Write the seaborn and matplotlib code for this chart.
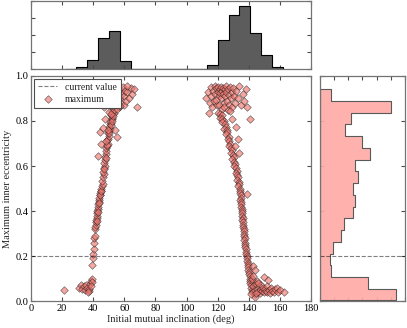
import numpy as np
import pandas as pd
import matplotlib
matplotlib.use("Agg")
import matplotlib.pyplot as plt
import seaborn as sns

# scatter: initial mutual inclination (deg) vs maximum inner eccentricity
incl_low = [21.5, 31, 32, 33, 34, 35, 35.5, 36, 37, 37.5, 38, 38.5, 39, 39.5, 38.8, 36.5,
            39.5, 39.8, 40, 40.2, 40.5, 40.8, 41]
ecc_low = [0.05, 0.06, 0.07, 0.055, 0.065, 0.05, 0.07, 0.06, 0.045, 0.055, 0.075, 0.09, 0.1, 0.085, 0.065, 0.04,
           0.16, 0.19, 0.21, 0.23, 0.26, 0.28, 0.29]

incl_left = [41.2, 41.4, 41.6, 41.8, 41.9, 42.1, 42.3, 42.5, 42.6, 42.8, 43.0, 43.2, 43.4, 43.6, 43.9, 44.1,
             44.4, 44.7, 45.0, 42.2, 42.9, 43.7, 44.6, 45.3,
             45.5, 46.0, 45.8, 46.3, 46.6, 46.2, 47.0, 47.3, 47.0, 47.8, 47.5, 48.1, 48.5, 48.0, 48.8, 49.2,
             48.7, 49.5, 49.9, 49.3, 50.3, 50.6, 50.0, 51.0, 51.4, 50.6, 51.8, 52.2, 51.4, 52.7, 53.1, 52.3, 53.6,
             43.3, 45.0, 47.6, 50.3, 44.5, 46.5, 54.0, 55.0,
             46.8, 47.9, 49.0, 50.2, 51.2, 52.0, 53.0, 48.4, 49.8, 51.6]
ecc_left = [0.32, 0.33, 0.34, 0.35, 0.36, 0.37, 0.38, 0.39, 0.40, 0.41, 0.42, 0.43, 0.44, 0.45, 0.46, 0.47,
            0.48, 0.49, 0.50, 0.355, 0.395, 0.435, 0.47, 0.49,
            0.51, 0.52, 0.535, 0.55, 0.565, 0.575, 0.59, 0.6, 0.615, 0.625, 0.64, 0.655, 0.665, 0.68, 0.69, 0.70,
            0.715, 0.72, 0.735, 0.745, 0.755, 0.765, 0.775, 0.785, 0.79, 0.80, 0.81, 0.815, 0.825, 0.83, 0.835, 0.845, 0.85,
            0.645, 0.70, 0.81, 0.84, 0.75, 0.77, 0.76, 0.73,
            0.585, 0.635, 0.695, 0.745, 0.78, 0.80, 0.82, 0.71, 0.76, 0.83]

incl_left_top = [47, 48.5, 49, 50, 50.5, 51, 51.5, 52, 52.5, 53, 53.5, 54, 54.5, 55, 55.5, 56, 56.5, 57,
                 57.5, 58, 58.5, 59, 59.5, 60, 60.5, 61, 62, 63, 64, 65, 66, 68, 55, 53, 57, 61.5, 46.5, 48]
ecc_left_top = [0.86, 0.88, 0.91, 0.93, 0.87, 0.90, 0.94, 0.92, 0.88, 0.95, 0.91, 0.87, 0.93, 0.89, 0.95, 0.92,
                0.86, 0.90, 0.94, 0.88, 0.92, 0.95, 0.87, 0.91, 0.935, 0.89, 0.93, 0.90, 0.945, 0.92, 0.94, 0.86,
                0.855, 0.865, 0.865, 0.955, 0.89, 0.945]

incl_right_top = [112.5, 113.5, 114.4, 115, 115.5, 116, 116.5, 117, 117.5, 118, 118.5, 119, 119.5, 120, 120.3,
                  120.8, 121.2, 121.6, 122, 122.4, 122.8, 123.2, 123.6, 124, 124.4, 124.8, 125.2, 125.6, 126,
                  126.5, 127, 127.5, 128, 128.5, 129, 129.5, 130, 130.5, 131, 132, 133, 134, 135, 136, 137, 138,
                  139, 121, 123, 119, 126.5, 124, 128, 140.5]
ecc_right_top = [0.90, 0.93, 0.834, 0.88, 0.95, 0.91, 0.86, 0.935, 0.89, 0.955, 0.92, 0.945, 0.87, 0.93, 0.95,
                 0.91, 0.94, 0.925, 0.95, 0.90, 0.935, 0.945, 0.92, 0.88, 0.94, 0.91, 0.955, 0.93, 0.89,
                 0.94, 0.915, 0.87, 0.95, 0.90, 0.93, 0.86, 0.945, 0.91, 0.88, 0.935, 0.90, 0.955, 0.87, 0.92, 0.89, 0.94,
                 0.86, 0.87, 0.855, 0.895, 0.85, 0.86, 0.845, 0.81]

incl_right = [120.5, 121.5, 122.5, 121.8, 123, 124, 122.8, 124.5, 125.2, 124, 125.8, 126.3, 125.3, 127, 126.5,
              127.5, 128.2, 127.4, 128.8, 129.3, 128.5, 129.8, 130.3, 129.5, 130.8, 131.3, 130.6, 131.8, 132.2,
              131.5, 132.6, 133.0, 132.4, 133.4, 133.8, 133.2, 134.2, 129, 131.5, 133, 131, 133.5,
              134.5, 134.3, 134.7, 134.9, 134.6, 135.1, 135.3, 135.0, 135.5, 135.7, 135.4, 135.9, 136.1, 135.8,
              136.3, 136.5, 136.2, 136.7, 136.9, 136.6, 137.1, 137.3, 137.0, 137.5, 137.8, 137.5, 138.0, 138.3,
              138.1, 138.6, 138.9, 138.7, 139.2, 139.5, 139.4, 139.8, 140.2, 140.0, 140.5, 138.6, 142.9, 144]
ecc_right = [0.835, 0.83, 0.825, 0.815, 0.81, 0.80, 0.795, 0.785, 0.775, 0.765, 0.76, 0.75, 0.74, 0.73, 0.72,
             0.71, 0.70, 0.69, 0.68, 0.67, 0.66, 0.65, 0.64, 0.63, 0.62, 0.61, 0.60, 0.59, 0.58,
             0.57, 0.56, 0.55, 0.54, 0.53, 0.52, 0.51, 0.50, 0.81, 0.775, 0.72, 0.69, 0.66,
             0.49, 0.48, 0.47, 0.46, 0.45, 0.44, 0.43, 0.42, 0.41, 0.40, 0.39, 0.38, 0.37, 0.36,
             0.35, 0.34, 0.33, 0.32, 0.31, 0.30, 0.29, 0.28, 0.27, 0.26, 0.25, 0.24, 0.23, 0.22,
             0.21, 0.20, 0.19, 0.18, 0.17, 0.16, 0.15, 0.14, 0.13, 0.12, 0.11, 0.474, 0.155, 0.14]

incl_bottom = [140.5, 141, 140.8, 141.2, 141.5, 141.8, 142, 142.5, 143, 143.5, 144, 144.3, 144.5, 145, 145.5,
               146, 146.5, 147, 147.5, 148, 148.5, 149, 149.5, 150, 150.5, 151, 151.5, 152, 152.6, 153, 153.5,
               154, 155, 156, 157, 158, 158.5, 160, 162.5, 142, 143, 141.5, 146, 144.8]
ecc_bottom = [0.10, 0.09, 0.08, 0.07, 0.06, 0.05, 0.04, 0.085, 0.065, 0.045, 0.03, 0.02, 0.075, 0.055, 0.09,
              0.04, 0.065, 0.05, 0.035, 0.07, 0.045, 0.06, 0.04, 0.108, 0.055, 0.045, 0.065, 0.04, 0.093, 0.05, 0.035,
              0.06, 0.045, 0.04, 0.055, 0.06, 0.04, 0.05, 0.04, 0.1, 0.11, 0.03, 0.08, 0.035]

# marginal histograms (counts per bin)
incl_edges = [22, 29, 36, 43, 50, 57, 64, 71, 78, 85, 92, 99, 106, 113, 120, 127, 134, 141, 148, 155, 162]
incl_counts = [1, 3, 13, 46, 56, 12, 0, 0, 0, 0, 0, 0, 0, 6, 43, 79, 92, 53, 21, 3]
ecc_edges = [0.003, 0.055, 0.107, 0.159, 0.211, 0.264, 0.316, 0.368, 0.420, 0.472, 0.524, 0.576,
             0.628, 0.680, 0.733, 0.785, 0.837, 0.889, 0.941]
ecc_counts = [54, 34, 8, 7, 9, 15, 17, 23, 25, 23, 27, 25, 35, 30, 18, 22, 50, 8]
current_value = 0.2

sns.set_style("ticks", {"xtick.direction": "in", "ytick.direction": "in",
                        "axes.edgecolor": "0.45"})
plt.rcParams["font.family"] = ["Liberation Serif", "DejaVu Serif"]
plt.rcParams.update({"xtick.top": True, "ytick.right": True,
                     "xtick.major.size": 3, "ytick.major.size": 3,
                     "xtick.color": "0.3", "ytick.color": "0.3",
                     "xtick.labelcolor": "black", "ytick.labelcolor": "black",
                     "font.size": 7.5})

df = pd.DataFrame({
    "incl": incl_low + incl_left + incl_left_top + incl_right_top + incl_right + incl_bottom,
    "ecc": ecc_low + ecc_left + ecc_left_top + ecc_right_top + ecc_right + ecc_bottom,
})

fig = plt.figure(figsize=(4.07, 3.28), dpi=100)
ax = fig.add_axes([0.0762, 0.0823, 0.688, 0.686])
ax_top = fig.add_axes([0.0762, 0.789, 0.688, 0.208])
ax_right = fig.add_axes([0.786, 0.0823, 0.209, 0.686])

# main scatter
ax.axhline(current_value, color="k", alpha=0.5, ls="--", lw=0.8, label="current value")
sns.scatterplot(data=df, x="incl", y="ecc", ax=ax, marker="D", s=15,
                color="#f07870", edgecolor="0.1", linewidth=0.45, alpha=0.65,
                label="maximum")
ax.set_xlim(0, 180)
ax.set_ylim(0, 1)
ax.set_xticks(np.arange(0, 181, 20))
ax.set_yticks(np.arange(0, 1.01, 0.2))
ax.set_xlabel("Initial mutual inclination (deg)", fontsize=7.5, labelpad=1)
ax.set_ylabel("Maximum inner eccentricity", fontsize=7.5, labelpad=2)
ax.tick_params(labelsize=7.5, pad=2)
leg = ax.legend(loc="upper left", fontsize=7, fancybox=False, framealpha=1,
                edgecolor="0.3", handlelength=2, borderpad=0.4, labelspacing=0.3,
                borderaxespad=0.3)
leg.get_frame().set_linewidth(0.8)

# top histogram
sns.histplot(x=incl_edges[:-1], weights=incl_counts, bins=incl_edges, element="step",
             ax=ax_top, color="#4a4a4a", edgecolor="black", alpha=0.9, linewidth=0.8)
ax_top.set_xlim(0, 180)
ax_top.set_ylim(0, 100)
ax_top.set_xticks(np.arange(0, 181, 20))
ax_top.set_yticks([0, 25, 50, 75, 100])
ax_top.set_xticklabels([])
ax_top.set_yticklabels([])
ax_top.set_xlabel("")
ax_top.set_ylabel("")

# right histogram
sns.histplot(y=ecc_edges[:-1], weights=ecc_counts, bins=ecc_edges, element="step",
             ax=ax_right, color="#ffaaa4", edgecolor="0.35", alpha=0.9, linewidth=0.8)
ax_right.axhline(current_value, color="k", alpha=0.5, ls="--", lw=0.8)
ax_right.set_ylim(0, 1)
ax_right.set_xlim(0, 60)
ax_right.set_xticks(np.arange(0, 61, 10))
ax_right.set_yticks(np.arange(0, 1.01, 0.2))
ax_right.set_xticklabels([])
ax_right.set_yticklabels([])
ax_right.set_xlabel("")
ax_right.set_ylabel("")

for a in (ax, ax_top, ax_right):
    for sp in a.spines.values():
        sp.set_linewidth(0.9)

fig.savefig("out.png", dpi=100)
